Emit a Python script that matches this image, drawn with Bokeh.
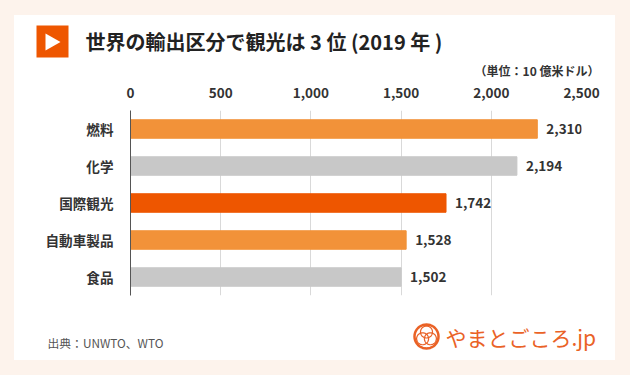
import math
from bokeh.plotting import figure
from bokeh.layouts import column
from bokeh.embed import file_html
from bokeh.resources import INLINE
from bokeh.models import ColumnDataSource, FixedTicker, NumeralTickFormatter
from bokeh.core.properties import value

categories = ["燃料", "化学", "国際観光", "自動車製品", "食品"]
# Bar lengths as drawn against the axis; the printed labels differ slightly in the source graphic.
bar_lengths = [2255, 2142, 1749, 1528, 1500]
value_labels = ["2,310", "2,194", "1,742", "1,528", "1,502"]
bar_colors = ["#f29239", "#c8c8c8", "#ee5600", "#f29239", "#c8c8c8"]
x_ticks = [0, 500, 1000, 1500, 2000, 2500]
title_text = "世界の輸出区分で観光は 3 位 (2019 年 )"
unit_text = "（単位：10 億米ドル）"
source_text = "出典：UNWTO、WTO"
logo_text = "やまとごころ.jp"

FONT = "Noto Sans CJK JP"
PEACH = "#fdf3ec"
ORANGE = "#ee5600"
LOGO = "#ea6226"
L, R = 14, 615
T, T2, T3, B = 15, 80, 306, 360


def strip(top, bottom):
    f = figure(width=R - L, height=bottom - top, x_range=(L, R), y_range=(bottom, top),
               x_axis_type=None, y_axis_type=None, output_backend="svg", toolbar_location=None,
               min_border=0, border_fill_color="#ffffff", background_fill_color="#ffffff", outline_line_color=None,
               frame_align=False)
    f.grid.visible = False
    return f


def put(f, x, y, text, size, color, style="normal", align="left"):
    f.text(x=[x], y=[y], text=[text], text_font=value(FONT), text_font_size=size, text_color=color,
           text_font_style=style, text_align=align, text_baseline="middle")


# header
head = strip(T, T2)
head.quad(left=[36], right=[68], top=[25], bottom=[57], fill_color=ORANGE, line_color=None)
head.patch(x=[45, 45, 60], y=[33, 50, 41.5], fill_color="#ffffff", line_color=None)
put(head, 85, 41, title_text, "20px", "#222222", "bold")
put(head, 599, 70, unit_text, "12px", "#333333", "bold", "right")

# chart
p = figure(width=R - L, height=T3 - T2, y_range=list(reversed(categories)), x_range=(0, 2500),
           x_axis_location="above", output_backend="svg", toolbar_location=None,
           min_border_left=116, min_border_right=34, min_border_top=30, min_border_bottom=11,
           border_fill_color="#ffffff", background_fill_color="#ffffff", outline_line_color=None,
           frame_align=False)

src = ColumnDataSource(dict(cat=categories, v=bar_lengths, lab=value_labels, col=bar_colors))
p.hbar(y="cat", left=0, right="v", height=0.5, fill_color="col", line_color="col", source=src)
p.text(x="v", y="cat", text="lab", source=src, x_offset=9, text_baseline="middle", text_align="left",
       text_font=value(FONT), text_font_style="bold", text_font_size="13.5px", text_color="#333333")

p.xaxis.ticker = FixedTicker(ticks=x_ticks)
p.xaxis.formatter = NumeralTickFormatter(format="0,0")
p.xaxis.axis_line_color = None
p.xaxis.major_tick_line_color = None
p.xaxis.minor_tick_line_color = None
p.xaxis.major_label_standoff = 7
p.xaxis.major_label_text_font = FONT
p.xaxis.major_label_text_font_style = "bold"
p.xaxis.major_label_text_font_size = "13.5px"
p.xaxis.major_label_text_color = "#333333"

p.yaxis.axis_line_color = "#555555"
p.yaxis.axis_line_width = 1
p.yaxis.major_tick_line_color = None
p.yaxis.minor_tick_line_color = None
p.yaxis.major_label_standoff = 11
p.yaxis.major_label_text_font = FONT
p.yaxis.major_label_text_font_style = "bold"
p.yaxis.major_label_text_font_size = "13.6px"
p.yaxis.major_label_text_color = "#333333"

p.xgrid.grid_line_color = "#d9d9d9"
p.ygrid.grid_line_color = None

# footer
foot = strip(T3, B)
put(foot, 47, 342, source_text, "11.8px", "#555555")
put(foot, 445, 336, logo_text, "21px", LOGO)
cx, cy, r = 426, 336, 12
angles = [i * math.pi / 20 for i in range(41)]
foot.line(x=[cx + r * math.cos(a) for a in angles], y=[cy + r * math.sin(a) for a in angles], line_color=LOGO, line_width=2.5)
for k in range(3):
    t = -math.pi / 2 + k * 2 * math.pi / 3
    ox, oy = cx + 4.5 * math.cos(t), cy + 4.5 * math.sin(t)
    foot.line(x=[ox + 6 * math.cos(a) for a in angles], y=[oy + 6 * math.sin(a) for a in angles], line_color=LOGO, line_width=1.2)

page = column(head, p, foot, spacing=0, margin=(T, 0, 0, L), styles={"background-color": "#ffffff"})
html = file_html(page, INLINE)
html = html.replace("<head>", "<head><style>html,body{background:%s;overflow:hidden}</style>" % PEACH, 1)
open("out.html", "w").write(html)
